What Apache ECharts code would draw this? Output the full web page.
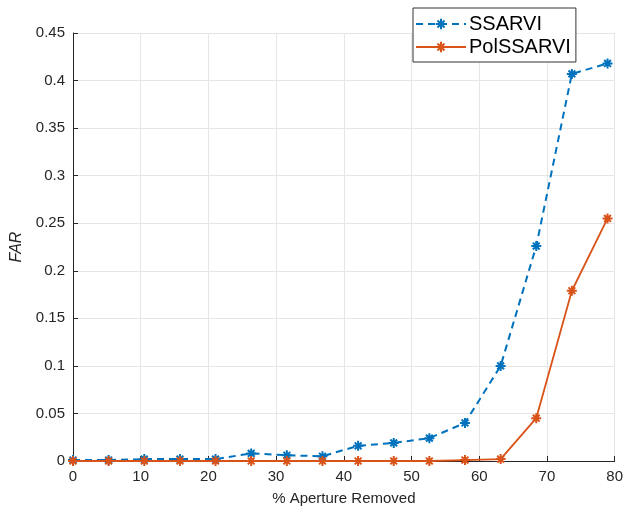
<!DOCTYPE html>
<html><head><meta charset="utf-8">
<script src="https://cdn.jsdelivr.net/npm/echarts@6/dist/echarts.min.js"></script>
<style>html,body{margin:0;padding:0;background:#fff}#c{width:626px;height:514px}</style>
</head><body><div id="c"></div>
<script>
var xValues = [0, 5.26, 10.53, 15.79, 21.05, 26.32, 31.58, 36.84, 42.11, 47.37, 52.63, 57.89, 63.16, 68.42, 73.68, 78.95];
var ssarvi = [0.001, 0.001, 0.002, 0.002, 0.002, 0.008, 0.006, 0.005, 0.016, 0.019, 0.024, 0.040, 0.100, 0.226, 0.407, 0.418];
var polssarvi = [0, 0, 0, 0, 0, 0, 0, 0, 0, 0, 0, 0.001, 0.002, 0.045, 0.179, 0.255];
var seriesNames = ['SSARVI', 'PolSSARVI'];
var xAxisName = '% Aperture Removed';
var yAxisName = 'FAR';

function pairs(xs, ys){ return xs.map(function(x,i){ return [x, ys[i]]; }); }
var star = 'path://M5 0L5 10M0 5L10 5M1.6 1.6L8.4 8.4M8.4 1.6L1.6 8.4';
var font = 'Liberation Sans, Arial, sans-serif';
var axisCol = '#262626';
var chart = echarts.init(document.getElementById('c'), null, {renderer:'canvas'});
chart.setOption({
  animation:false,
  backgroundColor:'#fff',
  grid:{left:73,right:10,top:33,bottom:53},
  legend:{
    orient:'vertical', left:413, top:8,
    backgroundColor:'#fff', borderColor:'#333', borderWidth:1, borderRadius:0,
    padding:[6,5,5,2], itemGap:3, itemWidth:50, itemHeight:13,
    textStyle:{fontFamily:font,fontSize:20,color:'#000',padding:[0,0,0,-2]},
    data:seriesNames
  },
  xAxis:{
    type:'value', min:0, max:80, interval:10,
    name:xAxisName, nameLocation:'middle', nameGap:30,
    nameTextStyle:{fontFamily:font,fontSize:15,color:axisCol},
    axisLine:{show:true,lineStyle:{color:axisCol,width:1}},
    axisTick:{show:true,inside:true,length:5,lineStyle:{color:axisCol}},
    axisLabel:{fontFamily:font,fontSize:15,color:axisCol,margin:8},
    splitLine:{show:true,lineStyle:{color:'#e6e6e6',width:1}}
  },
  yAxis:{
    type:'value', min:0, max:0.45, interval:0.05,
    name:yAxisName, nameLocation:'middle', nameGap:42, nameRotate:90,
    nameTextStyle:{fontFamily:font,fontSize:16,fontStyle:'italic',color:axisCol},
    axisLine:{show:true,lineStyle:{color:axisCol,width:1}},
    axisTick:{show:true,inside:true,length:5,lineStyle:{color:axisCol}},
    axisLabel:{fontFamily:font,fontSize:15,color:axisCol,margin:8},
    splitLine:{show:true,lineStyle:{color:'#e6e6e6',width:1}}
  },
  series:[
    {
      name:seriesNames[0], type:'line', data:pairs(xValues, ssarvi),
      symbol:star, symbolSize:10, showAllSymbol:true, z:3,
      lineStyle:{color:'#0072BD',width:2,type:[7,5]},
      itemStyle:{color:'#0072BD',borderColor:'#0072BD',borderWidth:2}
    },
    {
      name:seriesNames[1], type:'line', data:pairs(xValues, polssarvi),
      symbol:star, symbolSize:10, showAllSymbol:true, z:4,
      lineStyle:{color:'#D95319',width:1.8},
      itemStyle:{color:'#D95319',borderColor:'#D95319',borderWidth:2}
    }
  ]
});
</script></body></html>
